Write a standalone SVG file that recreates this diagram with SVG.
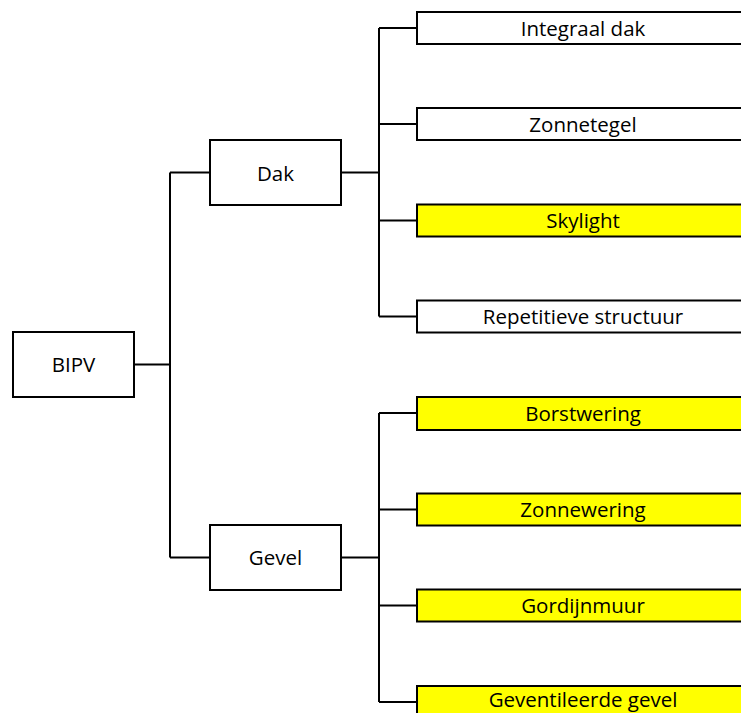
<svg xmlns="http://www.w3.org/2000/svg" width="741" height="713" viewBox="0 0 741 713">
<style>
.box{fill:#fff;stroke:#000;stroke-width:2}
.hl{fill:#ffff00;stroke:#000;stroke-width:2}
.lbl{font-family:"Open Sans","Liberation Sans",sans-serif;font-size:20.5px;fill:#000;text-anchor:middle}
.con{fill:none;stroke:#000;stroke-width:2}
</style>
<rect width="741" height="713" fill="#fff"/>
<g id="connectors">
<path class="con" d="M134 364.5H170M170 172.5V557.5M170 172.5H210M170 557.5H210"/>
<path class="con" d="M341 172.5H379M379 28V316.5M379 28H417M379 124H417M379 220.5H417M379 316.5H417"/>
<path class="con" d="M341 557.5H379M379 413V702M379 413H417M379 509.5H417M379 605.5H417M379 702H417"/>
</g>
<g id="bipv"><rect class="box" x="13" y="332" width="121" height="65"/><text class="lbl" x="73.5" y="372">BIPV</text></g>
<g id="dak"><rect class="box" x="210" y="140" width="131" height="65"/><text class="lbl" x="275.5" y="180.5">Dak</text></g>
<g id="gevel"><rect class="box" x="210" y="525" width="131" height="65"/><text class="lbl" x="275.5" y="565">Gevel</text></g>
<g id="integraal-dak"><rect class="box" x="417" y="12" width="333" height="32"/><text class="lbl" x="583" y="35.5">Integraal dak</text></g>
<g id="zonnetegel"><rect class="box" x="417" y="108" width="333" height="32"/><text class="lbl" x="583" y="131.5">Zonnetegel</text></g>
<g id="skylight"><rect class="hl" x="417" y="204.5" width="333" height="32"/><text class="lbl" x="583" y="228">Skylight</text></g>
<g id="repetitieve-structuur"><rect class="box" x="417" y="300.5" width="333" height="32"/><text class="lbl" x="583" y="324">Repetitieve structuur</text></g>
<g id="borstwering"><rect class="hl" x="417" y="397" width="333" height="33"/><text class="lbl" x="583" y="420.5">Borstwering</text></g>
<g id="zonnewering"><rect class="hl" x="417" y="493.5" width="333" height="32"/><text class="lbl" x="583" y="517">Zonnewering</text></g>
<g id="gordijnmuur"><rect class="hl" x="417" y="589.5" width="333" height="32"/><text class="lbl" x="583" y="613">Gordijnmuur</text></g>
<g id="geventileerde-gevel"><rect class="hl" x="417" y="686" width="333" height="32"/><text class="lbl" x="583" y="706.5">Geventileerde gevel</text></g>
</svg>
